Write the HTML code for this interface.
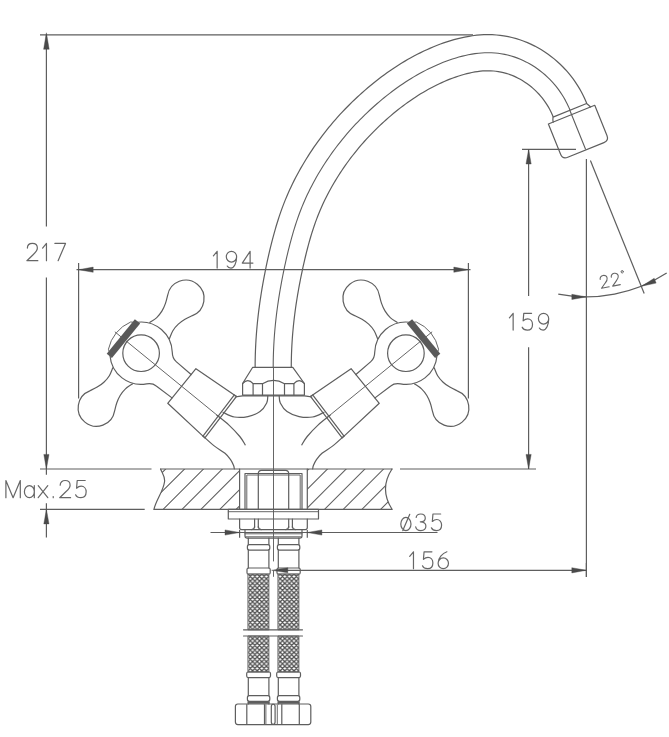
<!DOCTYPE html>
<html><head><meta charset="utf-8"><title>Faucet drawing</title>
<style>html,body{margin:0;padding:0;background:#fff;}svg{display:block;}</style></head>
<body><svg width="669" height="737" viewBox="0 0 669 737">
<rect width="669" height="737" fill="#fff"/>
<g fill="none" stroke="#5e5e5e" stroke-width="1.2" stroke-linecap="round" stroke-linejoin="round">
<path d="M255.13,367.40 L255.14,364.28 L255.17,361.15 L255.25,357.25 L255.33,354.13 L255.44,351.01 L255.60,347.11 L255.76,344.00 L255.98,340.11 L256.19,337.00 L256.41,333.89 L256.72,330.01 L257.00,326.91 L257.36,323.04 L257.68,319.94 L258.02,316.85 L258.47,312.99 L258.85,309.91 L259.36,306.06 L259.78,302.98 L260.23,299.91 L260.81,296.08 L261.29,293.02 L261.92,289.21 L262.44,286.16 L262.97,283.12 L263.66,279.33 L264.23,276.30 L264.97,272.52 L265.57,269.50 L266.19,266.48 L266.98,262.70 L267.63,259.69 L268.47,255.92 L269.16,252.91 L269.87,249.89 L270.78,246.13 L271.53,243.11 L272.50,239.35 L273.30,236.33 L274.12,233.32 L275.18,229.54 L276.06,226.52 L277.21,222.74 L278.16,219.71 L279.15,216.68 L280.43,212.91 L281.49,209.89 L282.88,206.13 L284.03,203.13 L285.21,200.15 L286.75,196.43 L288.02,193.47 L289.67,189.80 L291.02,186.88 L292.41,183.98 L294.20,180.38 L295.67,177.52 L297.17,174.69 L299.08,171.18 L300.65,168.39 L302.65,164.94 L304.28,162.20 L305.94,159.48 L308.06,156.10 L309.78,153.42 L311.98,150.10 L313.77,147.46 L315.58,144.85 L317.89,141.60 L319.77,139.03 L322.16,135.85 L324.10,133.32 L326.07,130.82 L328.56,127.71 L330.59,125.26 L333.16,122.21 L335.24,119.80 L337.35,117.42 L340.02,114.47 L342.19,112.13 L344.93,109.25 L347.15,106.97 L349.39,104.71 L352.23,101.93 L354.52,99.72 L357.41,97.01 L359.75,94.86 L362.11,92.73 L365.09,90.11 L367.50,88.04 L370.55,85.48 L373.01,83.47 L375.50,81.47 L378.64,79.02 L381.18,77.08 L384.39,74.70 L386.99,72.82 L389.62,70.97 L392.94,68.71 L395.63,66.92 L399.02,64.75 L401.76,63.04 L404.53,61.37 L408.02,59.33 L410.84,57.74 L414.40,55.81 L417.28,54.30 L420.18,52.84 L423.85,51.06 L426.81,49.68 L429.81,48.35 L433.59,46.75 L436.64,45.52 L440.50,44.05 L443.63,42.93 L446.78,41.87 L450.76,40.62 L453.98,39.68 L458.05,38.60 L461.35,37.81 L464.69,37.09 L468.95,36.29 L472.41,35.76 L476.79,35.22 L480.33,34.91 L483.91,34.71 L488.41,34.63 L492.04,34.71 L496.57,34.98 L500.20,35.35 L503.82,35.85 L508.33,36.66 L511.90,37.47 L516.31,38.65 L519.80,39.74 L523.24,40.95 L527.45,42.64 L530.76,44.11 L534.79,46.09 L537.94,47.79 L541.04,49.59 L544.82,51.98 L547.77,54.00 L551.37,56.66 L554.17,58.88 L556.89,61.20 L560.19,64.22 L562.73,66.72 L565.80,69.97 L568.16,72.65 L570.43,75.41 L573.14,78.95 L575.21,81.86 L577.66,85.58 L579.51,88.63 L581.27,91.74 L583.32,95.69 L584.85,98.91 L586.61,103.00" />
<path d="M273.20,367.40 L273.21,364.41 L273.24,361.41 L273.31,357.67 L273.40,354.68 L273.50,351.69 L273.66,347.95 L273.81,344.96 L274.02,341.23 L274.22,338.24 L274.43,335.26 L274.73,331.53 L274.99,328.55 L275.35,324.82 L275.65,321.85 L275.98,318.87 L276.41,315.16 L276.78,312.19 L277.27,308.48 L277.68,305.51 L278.10,302.55 L278.66,298.85 L279.13,295.89 L279.74,292.20 L280.24,289.25 L280.76,286.31 L281.43,282.63 L281.99,279.68 L282.70,276.01 L283.28,273.08 L283.88,270.14 L284.66,266.48 L285.29,263.56 L286.10,259.91 L286.77,256.99 L287.45,254.08 L288.33,250.44 L289.06,247.54 L289.99,243.91 L290.75,241.02 L291.54,238.13 L292.55,234.53 L293.39,231.66 L294.47,228.08 L295.37,225.22 L296.30,222.38 L297.50,218.83 L298.50,216.01 L299.79,212.50 L300.86,209.71 L301.97,206.92 L303.40,203.47 L304.58,200.72 L306.11,197.30 L307.37,194.59 L308.66,191.89 L310.32,188.54 L311.69,185.88 L313.09,183.23 L314.88,179.95 L316.35,177.34 L318.22,174.10 L319.76,171.53 L321.31,168.98 L323.30,165.81 L324.92,163.29 L326.99,160.17 L328.67,157.69 L330.37,155.23 L332.54,152.19 L334.31,149.77 L336.55,146.78 L338.38,144.40 L340.22,142.05 L342.57,139.13 L344.47,136.82 L346.89,133.97 L348.84,131.70 L350.83,129.46 L353.34,126.69 L355.37,124.49 L357.95,121.78 L360.04,119.64 L362.15,117.52 L364.82,114.89 L366.97,112.82 L369.70,110.26 L371.90,108.23 L374.13,106.23 L376.94,103.76 L379.21,101.81 L382.07,99.41 L384.39,97.51 L386.73,95.64 L389.67,93.33 L392.05,91.52 L395.06,89.29 L397.48,87.54 L399.93,85.82 L403.02,83.71 L405.52,82.05 L408.66,80.03 L411.20,78.45 L413.77,76.90 L417.00,75.02 L419.61,73.55 L422.89,71.76 L425.54,70.38 L428.22,69.03 L431.58,67.39 L434.30,66.13 L437.03,64.92 L440.47,63.46 L443.25,62.34 L446.75,61.01 L449.56,60.00 L452.40,59.04 L455.97,57.92 L458.84,57.09 L462.46,56.13 L465.37,55.43 L468.29,54.80 L471.97,54.11 L474.93,53.65 L478.64,53.20 L481.62,52.94 L484.61,52.77 L488.35,52.71 L491.34,52.77 L495.08,52.99 L498.06,53.30 L501.02,53.71 L504.70,54.37 L507.62,55.03 L511.23,55.99 L514.09,56.89 L516.91,57.88 L520.39,59.27 L523.12,60.49 L526.48,62.14 L529.11,63.56 L531.70,65.06 L534.86,67.06 L537.33,68.75 L540.34,70.97 L542.68,72.84 L544.96,74.78 L547.72,77.30 L549.85,79.40 L552.42,82.12 L554.40,84.37 L556.30,86.68 L558.58,89.65 L560.31,92.09 L562.37,95.21 L563.92,97.77 L565.39,100.38 L567.12,103.70 L568.40,106.40 L569.88,109.83" stroke-width="1.1"/>
<path d="M291.27,367.40 L291.28,364.54 L291.31,361.68 L291.38,358.10 L291.46,355.24 L291.56,352.37 L291.71,348.79 L291.85,345.93 L292.06,342.35 L292.25,339.49 L292.45,336.63 L292.74,333.05 L292.99,330.19 L293.33,326.61 L293.63,323.75 L293.94,320.89 L294.36,317.32 L294.71,314.46 L295.18,310.90 L295.57,308.04 L295.98,305.19 L296.52,301.62 L296.98,298.77 L297.56,295.20 L298.05,292.34 L298.55,289.49 L299.20,285.92 L299.74,283.07 L300.43,279.50 L301.00,276.66 L301.58,273.81 L302.33,270.26 L302.94,267.43 L303.73,263.89 L304.38,261.07 L305.04,258.26 L305.88,254.75 L306.58,251.96 L307.47,248.48 L308.21,245.70 L308.96,242.94 L309.92,239.52 L310.72,236.79 L311.74,233.42 L312.58,230.73 L313.45,228.07 L314.58,224.76 L315.50,222.13 L316.71,218.87 L317.70,216.28 L318.72,213.70 L320.04,210.50 L321.14,207.96 L322.55,204.81 L323.71,202.30 L324.91,199.80 L326.45,196.70 L327.72,194.23 L329.02,191.78 L330.68,188.72 L332.05,186.29 L333.80,183.26 L335.23,180.86 L336.69,178.47 L338.55,175.51 L340.06,173.16 L341.99,170.24 L343.57,167.92 L345.16,165.62 L347.19,162.77 L348.85,160.51 L350.95,157.71 L352.65,155.49 L354.38,153.28 L356.58,150.55 L358.36,148.39 L360.62,145.72 L362.45,143.60 L364.30,141.50 L366.65,138.91 L368.56,136.86 L370.97,134.32 L372.92,132.31 L374.90,130.32 L377.40,127.86 L379.43,125.91 L381.99,123.51 L384.06,121.61 L386.15,119.73 L388.79,117.41 L390.91,115.58 L393.60,113.33 L395.77,111.55 L397.95,109.80 L400.70,107.65 L402.92,105.96 L405.72,103.88 L407.98,102.26 L410.24,100.66 L413.10,98.71 L415.40,97.18 L418.30,95.32 L420.65,93.86 L423.01,92.44 L425.98,90.70 L428.37,89.35 L431.38,87.72 L433.81,86.45 L436.25,85.22 L439.31,83.73 L441.78,82.59 L444.25,81.48 L447.36,80.17 L449.86,79.16 L452.99,77.97 L455.50,77.07 L458.02,76.22 L461.18,75.23 L463.70,74.49 L466.87,73.66 L469.39,73.05 L471.90,72.51 L474.99,71.93 L477.45,71.55 L480.50,71.18 L482.91,70.96 L485.31,70.83 L488.29,70.78 L490.65,70.83 L493.58,71.01 L495.91,71.24 L498.22,71.56 L501.08,72.08 L503.35,72.58 L506.15,73.34 L508.38,74.03 L510.59,74.81 L513.32,75.90 L515.48,76.87 L518.16,78.19 L520.28,79.33 L522.36,80.54 L524.90,82.14 L526.89,83.50 L529.31,85.29 L531.20,86.79 L533.03,88.35 L535.25,90.39 L536.97,92.08 L539.05,94.27 L540.64,96.08 L542.18,97.95 L544.01,100.34 L545.41,102.32 L547.07,104.84 L548.33,106.91 L549.52,109.01 L550.91,111.70 L551.95,113.89 L553.15,116.67" />
<line x1="273.50" y1="367.50" x2="273.50" y2="561.00" stroke-width="0.95"/>
<line x1="273.50" y1="571.00" x2="273.50" y2="576.40" stroke-width="0.95"/>
<g transform="translate(569.8,110.3) rotate(-22)">
<path d="M-18.1,0 L18.1,0 M-18.1,0 Q-19.5,2.5 -19.8,4.7 M18.1,0 Q19.5,2.5 20.5,4.7" />
<path d="M-25,4.7 L25,4.7 L25,37.3 Q25,42.8 19.5,42.8 L-19.5,42.8 Q-25,42.8 -25,37.3 Z" />
<line x1="0.00" y1="0.00" x2="0.00" y2="41.80" stroke-width="1.1"/>
</g>
<path d="M252.7,367.3 L292.8,367.3 L304.4,383.5 L304.4,395.1 L242.6,395.1 L242.6,383.5 Z" />
<path d="M242.6,383.7 Q247.8,377.4 253.1,383.7 L262.5,383.7 Q273.5,377 284.5,383.7 L293.9,383.7 Q299.2,377.4 304.4,383.7" />
<line x1="253.10" y1="383.70" x2="253.10" y2="395.10" />
<line x1="262.50" y1="383.70" x2="262.50" y2="395.10" />
<line x1="284.50" y1="383.70" x2="284.50" y2="395.10" />
<line x1="293.90" y1="383.70" x2="293.90" y2="395.10" />
<g>
<circle cx="141.1" cy="353.2" r="18.3"/>
<path d="M137.31,322.24 A31.2,31.2 0 0,1 172.28,352.31 Q172.35,358.55 176.18,361.61 L191.10,374.49" />
<path d="M172.01,397.89 L156.27,386.02 Q152.50,382.89 146.50,383.93 A31.2,31.2 0 0,1 110.01,355.72" />
<g transform="matrix(0.775,0.632,0.632,-0.775,141.1,353.2)"><path d="M-12.70,29.30 C-12.32,30.67 -10.77,34.72 -10.40,37.50 C-10.03,40.28 -10.13,43.25 -10.50,46.00 C-10.87,48.75 -11.68,51.40 -12.60,54.00 C-13.52,56.60 -15.43,60.33 -16.00,61.60 A18.35,18.35 0 1,0 16.00,61.60 C15.43,60.33 13.52,56.60 12.60,54.00 C11.68,51.40 10.87,48.75 10.50,46.00 C10.13,43.25 10.03,40.28 10.40,37.50 C10.77,34.72 12.32,30.67 12.70,29.30"/><path d="M-12.70,29.30 C-12.32,30.67 -10.77,34.72 -10.40,37.50 C-10.03,40.28 -10.13,43.25 -10.50,46.00 C-10.87,48.75 -11.68,51.40 -12.60,54.00 C-13.52,56.60 -15.43,60.33 -16.00,61.60 A18.35,18.35 0 1,0 16.00,61.60 C15.43,60.33 13.52,56.60 12.60,54.00 C11.68,51.40 10.87,48.75 10.50,46.00 C10.13,43.25 10.03,40.28 10.40,37.50 C10.77,34.72 12.32,30.67 12.70,29.30" transform="scale(1,-1)"/></g>
<line x1="137.51" y1="321.37" x2="109.32" y2="355.93" stroke="#595959" stroke-width="6.8" stroke-linecap="butt" stroke-linejoin="round"/>
<path d="M132.83,322.20 L130.68,321.99 A38,38 0 0,0 108.43,349.27 L109.07,351.34" stroke-width="0.95"/>
<line x1="115.14" y1="332.03" x2="219.76" y2="417.35" stroke-width="0.95"/>
<path d="M234.33,394.90 L195.92,368.74 L167.73,403.30 L202.98,436.18" />
<path d="M234.33,394.90 L202.98,436.18 L204.87,437.98 L236.53,396.31 Z" />
<path d="M235.1,397.0 Q239,396.2 242.6,395.9 L273.5,395.9" />
<path d="M267.80,395.90 C267.62,397.07 268.00,400.28 266.70,402.90 C265.40,405.52 263.13,409.32 260.00,411.60 C256.87,413.88 252.17,415.70 247.90,416.60 C243.63,417.50 238.55,417.72 234.40,417.00 C230.25,416.28 224.90,413.08 223.00,412.30" />
<path d="M216.90,415.20 C218.92,416.85 225.18,421.55 229.00,425.10 C232.82,428.65 237.10,433.22 239.80,436.50 C242.50,439.78 244.30,443.42 245.20,444.80" />
<path d="M202.80,435.80 C204.70,437.48 210.50,442.98 214.20,445.90 C217.90,448.82 222.30,451.05 225.00,453.30 C227.70,455.55 228.97,457.37 230.40,459.40 C231.83,461.43 232.95,463.93 233.60,465.50 C234.25,467.07 234.18,468.25 234.30,468.80" />
</g>
<g transform="matrix(-1,0,0,1,547.00,0)">
<circle cx="141.1" cy="353.2" r="18.3"/>
<path d="M137.31,322.24 A31.2,31.2 0 0,1 172.28,352.31 Q172.35,358.55 176.18,361.61 L191.10,374.49" />
<path d="M172.01,397.89 L156.27,386.02 Q152.50,382.89 146.50,383.93 A31.2,31.2 0 0,1 110.01,355.72" />
<g transform="matrix(0.775,0.632,0.632,-0.775,141.1,353.2)"><path d="M-12.70,29.30 C-12.32,30.67 -10.77,34.72 -10.40,37.50 C-10.03,40.28 -10.13,43.25 -10.50,46.00 C-10.87,48.75 -11.68,51.40 -12.60,54.00 C-13.52,56.60 -15.43,60.33 -16.00,61.60 A18.35,18.35 0 1,0 16.00,61.60 C15.43,60.33 13.52,56.60 12.60,54.00 C11.68,51.40 10.87,48.75 10.50,46.00 C10.13,43.25 10.03,40.28 10.40,37.50 C10.77,34.72 12.32,30.67 12.70,29.30"/><path d="M-12.70,29.30 C-12.32,30.67 -10.77,34.72 -10.40,37.50 C-10.03,40.28 -10.13,43.25 -10.50,46.00 C-10.87,48.75 -11.68,51.40 -12.60,54.00 C-13.52,56.60 -15.43,60.33 -16.00,61.60 A18.35,18.35 0 1,0 16.00,61.60 C15.43,60.33 13.52,56.60 12.60,54.00 C11.68,51.40 10.87,48.75 10.50,46.00 C10.13,43.25 10.03,40.28 10.40,37.50 C10.77,34.72 12.32,30.67 12.70,29.30" transform="scale(1,-1)"/></g>
<line x1="137.51" y1="321.37" x2="109.32" y2="355.93" stroke="#595959" stroke-width="6.8" stroke-linecap="butt" stroke-linejoin="round"/>
<path d="M132.83,322.20 L130.68,321.99 A38,38 0 0,0 108.43,349.27 L109.07,351.34" stroke-width="0.95"/>
<line x1="115.14" y1="332.03" x2="219.76" y2="417.35" stroke-width="0.95"/>
<path d="M234.33,394.90 L195.92,368.74 L167.73,403.30 L202.98,436.18" />
<path d="M234.33,394.90 L202.98,436.18 L204.87,437.98 L236.53,396.31 Z" />
<path d="M235.1,397.0 Q239,396.2 242.6,395.9 L273.5,395.9" />
<path d="M267.80,395.90 C267.62,397.07 268.00,400.28 266.70,402.90 C265.40,405.52 263.13,409.32 260.00,411.60 C256.87,413.88 252.17,415.70 247.90,416.60 C243.63,417.50 238.55,417.72 234.40,417.00 C230.25,416.28 224.90,413.08 223.00,412.30" />
<path d="M216.90,415.20 C218.92,416.85 225.18,421.55 229.00,425.10 C232.82,428.65 237.10,433.22 239.80,436.50 C242.50,439.78 244.30,443.42 245.20,444.80" />
<path d="M202.80,435.80 C204.70,437.48 210.50,442.98 214.20,445.90 C217.90,448.82 222.30,451.05 225.00,453.30 C227.70,455.55 228.97,457.37 230.40,459.40 C231.83,461.43 232.95,463.93 233.60,465.50 C234.25,467.07 234.18,468.25 234.30,468.80" />
</g>
<defs>
<clipPath id="cl"><path d="M160.6,469.0 C162,473 165.5,477 164.5,482 C163,492 156,500 154,509.3 L239.6,509.3 L239.6,469.0 Z"/></clipPath>
<clipPath id="cr"><path d="M307.3,469.0 L392,469.0 C383.5,482 383.5,496 392,509.3 L307.3,509.3 Z"/></clipPath>
</defs>
<g clip-path="url(#cl)">
<line x1="95.80" y1="520.00" x2="155.80" y2="460.00" stroke-width="1.05"/>
<line x1="114.70" y1="520.00" x2="174.70" y2="460.00" stroke-width="1.05"/>
<line x1="133.60" y1="520.00" x2="193.60" y2="460.00" stroke-width="1.05"/>
<line x1="152.50" y1="520.00" x2="212.50" y2="460.00" stroke-width="1.05"/>
<line x1="171.40" y1="520.00" x2="231.40" y2="460.00" stroke-width="1.05"/>
<line x1="190.30" y1="520.00" x2="250.30" y2="460.00" stroke-width="1.05"/>
<line x1="209.20" y1="520.00" x2="269.20" y2="460.00" stroke-width="1.05"/>
<line x1="228.10" y1="520.00" x2="288.10" y2="460.00" stroke-width="1.05"/>
<line x1="247.00" y1="520.00" x2="307.00" y2="460.00" stroke-width="1.05"/>
<line x1="265.90" y1="520.00" x2="325.90" y2="460.00" stroke-width="1.05"/>
<line x1="225.50" y1="520.00" x2="285.50" y2="460.00" />
</g>
<g clip-path="url(#cr)">
<line x1="239.10" y1="520.00" x2="299.10" y2="460.00" stroke-width="1.05"/>
<line x1="257.80" y1="520.00" x2="317.80" y2="460.00" stroke-width="1.05"/>
<line x1="276.50" y1="520.00" x2="336.50" y2="460.00" stroke-width="1.05"/>
<line x1="295.20" y1="520.00" x2="355.20" y2="460.00" stroke-width="1.05"/>
<line x1="313.90" y1="520.00" x2="373.90" y2="460.00" stroke-width="1.05"/>
<line x1="332.60" y1="520.00" x2="392.60" y2="460.00" stroke-width="1.05"/>
<line x1="351.30" y1="520.00" x2="411.30" y2="460.00" stroke-width="1.05"/>
<line x1="370.00" y1="520.00" x2="430.00" y2="460.00" stroke-width="1.05"/>
<line x1="388.70" y1="520.00" x2="448.70" y2="460.00" stroke-width="1.05"/>
<line x1="407.40" y1="520.00" x2="467.40" y2="460.00" stroke-width="1.05"/>
</g>
<path d="M160.6,469.0 C162,473 165.5,477 164.5,482 C163,492 156,500 154,509.3" />
<path d="M392,469.0 C383.5,482 383.5,496 392,509.3" />
<line x1="160.60" y1="469.00" x2="392.00" y2="469.00" />
<line x1="154.00" y1="509.30" x2="392.00" y2="509.30" />
<line x1="239.60" y1="469.00" x2="239.60" y2="509.30" />
<line x1="307.30" y1="469.00" x2="307.30" y2="509.30" />
<path d="M245.0,509.3 L245.0,473.5 L302.0,473.5 L302.0,509.3" />
<path d="M246.8,509.3 L246.8,475 L300.2,475 L300.2,509.3" stroke-width="0.95"/>
<path d="M258.3,509.3 L258.3,473.5 Q258.3,470.3 261.5,470.3 L285.5,470.3 Q288.7,470.3 288.7,473.5 L288.7,509.3" />
<rect x="228.3" y="509.3" width="90.2" height="9.7"/>
<line x1="228.30" y1="511.70" x2="318.50" y2="511.70" stroke-width="0.95"/>
<path d="M239.6,519 L239.6,527.5 Q239.6,529.6 241.8,529.6 L305.1,529.6 Q307.3,529.6 307.3,527.5 L307.3,519" />
<line x1="254.60" y1="519.00" x2="254.60" y2="527.50" />
<line x1="258.30" y1="519.00" x2="258.30" y2="527.50" />
<line x1="288.70" y1="519.00" x2="288.70" y2="527.50" />
<line x1="292.40" y1="519.00" x2="292.40" y2="527.50" />
<path d="M251.6,529.6 Q254.6,529 254.6,526.5 M261.3,529.6 Q258.3,529 258.3,526.5 M285.7,529.6 Q288.7,529 288.7,526.5 M295.4,529.6 Q292.4,529 292.4,526.5" />
<path d="M245.0,530.2 L245.0,536 Q245.0,538.2 247.3,538.2 L299.7,538.2 Q302.0,538.2 302.0,536 L302.0,530.2" />
<line x1="245.00" y1="533.80" x2="302.00" y2="533.80" stroke-width="0.95"/>
<line x1="246.00" y1="536.80" x2="301.00" y2="536.80" stroke-width="0.95"/>
<defs><pattern id="braid" x="248.0" y="574.2" width="4.6" height="4.6" patternUnits="userSpaceOnUse"><rect width="4.6" height="4.6" fill="#fff" stroke="none"/><path d="M-1,-1 L5.6,5.6 M-1,5.6 L5.6,-1 M-5.6,-1 L1,5.6 M3.5999999999999996,-1 L10.2,5.6 M-1,1 L1,-1 M3.5999999999999996,5.6 L5.6,3.5999999999999996 M-1,3.5999999999999996 L1,5.6 M3.5999999999999996,-1 L5.6,1" stroke="#505050" stroke-width="1.3" stroke-linecap="butt" fill="none"/></pattern></defs>
<path d="M248.3,538.2 L248.3,544.7 M268.9,538.2 L268.9,544.7" />
<rect x="247.4" y="544.7" width="22.399999999999967" height="5.4" rx="2"/>
<path d="M248.3,550.1 L248.3,568 M268.9,550.1 L268.9,568" />
<rect x="247.0" y="568" width="23.199999999999967" height="6.2" rx="1.5"/>
<rect x="248.3" y="574.2" width="20.599999999999966" height="55.6" fill="url(#braid)" stroke-width="0.9"/>
<rect x="248.3" y="636" width="20.599999999999966" height="36" fill="url(#braid)" stroke-width="0.9"/>
<rect x="246.70000000000002" y="672" width="23.799999999999965" height="5.6" rx="1.5"/>
<path d="M248.3,677.6 L248.3,695.7 M268.9,677.6 L268.9,695.7" />
<rect x="247.4" y="695.7" width="22.399999999999967" height="5.6" rx="2"/>
<path d="M248.3,701.3 L248.3,704 M268.9,701.3 L268.9,704" />
<line x1="248.30" y1="702.90" x2="268.90" y2="702.90" stroke-width="1.6"/>
<path d="M278.3,538.2 L278.3,544.7 M298.9,538.2 L298.9,544.7" />
<rect x="277.40000000000003" y="544.7" width="22.399999999999967" height="5.4" rx="2"/>
<path d="M278.3,550.1 L278.3,568 M298.9,550.1 L298.9,568" />
<rect x="277.0" y="568" width="23.199999999999967" height="6.2" rx="1.5"/>
<rect x="278.3" y="574.2" width="20.599999999999966" height="55.6" fill="url(#braid)" stroke-width="0.9"/>
<rect x="278.3" y="636" width="20.599999999999966" height="36" fill="url(#braid)" stroke-width="0.9"/>
<rect x="276.7" y="672" width="23.799999999999965" height="5.6" rx="1.5"/>
<path d="M278.3,677.6 L278.3,695.7 M298.9,677.6 L298.9,695.7" />
<rect x="277.40000000000003" y="695.7" width="22.399999999999967" height="5.6" rx="2"/>
<path d="M278.3,701.3 L278.3,704 M298.9,701.3 L298.9,704" />
<line x1="278.30" y1="702.90" x2="298.90" y2="702.90" stroke-width="1.6"/>
<line x1="243.50" y1="629.80" x2="302.50" y2="629.80" />
<line x1="243.50" y1="636.00" x2="302.50" y2="636.00" />
<rect x="235.4" y="704" width="39.7" height="20.6" rx="2.5"/>
<rect x="271.3" y="704" width="39.5" height="20.6" rx="2.5"/>
<line x1="246.80" y1="704.50" x2="246.80" y2="724.00" />
<line x1="264.50" y1="704.50" x2="264.50" y2="724.00" />
<line x1="281.80" y1="704.50" x2="281.80" y2="724.00" />
<line x1="299.30" y1="704.50" x2="299.30" y2="724.00" />
<line x1="265.90" y1="705.00" x2="265.90" y2="723.60" stroke-width="0.9"/>
<line x1="277.30" y1="705.00" x2="277.30" y2="723.60" stroke-width="0.9"/>
</g>
<g fill="none" stroke="#5e5e5e" stroke-width="1.2" stroke-linecap="butt">
<line x1="40.00" y1="34.80" x2="473.00" y2="34.80" />
<line x1="46.40" y1="34.80" x2="46.40" y2="226.60" />
<line x1="46.40" y1="277.60" x2="46.40" y2="474.80" />
<line x1="46.40" y1="503.30" x2="46.40" y2="537.50" />
<line x1="40.00" y1="469.00" x2="151.50" y2="469.00" />
<line x1="40.00" y1="509.30" x2="144.70" y2="509.30" />
<line x1="400.00" y1="469.00" x2="536.00" y2="469.00" />
<line x1="78.60" y1="263.00" x2="78.60" y2="398.40" />
<line x1="468.40" y1="263.00" x2="468.40" y2="398.40" />
<line x1="76.50" y1="269.70" x2="470.50" y2="269.70" />
<line x1="522.00" y1="149.40" x2="576.00" y2="149.40" />
<line x1="528.60" y1="149.40" x2="528.60" y2="296.00" />
<line x1="528.60" y1="347.20" x2="528.60" y2="469.00" />
<line x1="586.40" y1="159.00" x2="586.40" y2="577.00" />
<line x1="590.40" y1="160.50" x2="644.20" y2="293.50" />
<path d="M558.27,294.19 A147.4,147.4 0 0,0 666.68,273.12" />
<line x1="210.50" y1="532.50" x2="437.50" y2="532.50" />
<line x1="239.60" y1="530.00" x2="239.60" y2="537.70" />
<line x1="307.30" y1="530.00" x2="307.30" y2="537.70" />
<line x1="286.00" y1="570.30" x2="586.40" y2="570.30" />
<line x1="586.40" y1="563.00" x2="586.40" y2="577.00" />
</g>
<polygon points="46.40,32.80 49.20,49.30 43.60,49.30" fill="#4a4a4a" stroke="#4a4a4a" stroke-width="0.4"/>
<polygon points="46.40,469.00 43.80,454.40 49.00,454.40" fill="#4a4a4a" stroke="#4a4a4a" stroke-width="0.4"/>
<polygon points="46.40,509.30 49.00,523.90 43.80,523.90" fill="#4a4a4a" stroke="#4a4a4a" stroke-width="0.4"/>
<polygon points="78.60,269.70 93.20,267.10 93.20,272.30" fill="#4a4a4a" stroke="#4a4a4a" stroke-width="0.4"/>
<polygon points="468.40,269.70 453.80,272.30 453.80,267.10" fill="#4a4a4a" stroke="#4a4a4a" stroke-width="0.4"/>
<polygon points="528.60,149.40 531.20,164.00 526.00,164.00" fill="#4a4a4a" stroke="#4a4a4a" stroke-width="0.4"/>
<polygon points="528.60,469.00 526.00,454.40 531.20,454.40" fill="#4a4a4a" stroke="#4a4a4a" stroke-width="0.4"/>
<polygon points="586.40,296.90 571.80,299.50 571.80,294.30" fill="#4a4a4a" stroke="#4a4a4a" stroke-width="0.4"/>
<polygon points="641.62,286.17 654.18,278.29 656.13,283.11" fill="#4a4a4a" stroke="#4a4a4a" stroke-width="0.4"/>
<polygon points="239.60,532.50 225.00,535.10 225.00,529.90" fill="#4a4a4a" stroke="#4a4a4a" stroke-width="0.4"/>
<polygon points="307.30,532.50 321.90,529.90 321.90,535.10" fill="#4a4a4a" stroke="#4a4a4a" stroke-width="0.4"/>
<polygon points="271.60,570.30 287.80,567.80 287.80,572.80" fill="#4a4a4a" stroke="#4a4a4a" stroke-width="0.4"/>
<polygon points="586.40,570.30 571.80,572.90 571.80,567.70" fill="#4a4a4a" stroke="#4a4a4a" stroke-width="0.4"/>
<path d="M0.03,0.27 C0.03,0.1 0.17,0 0.34,0 C0.52,0 0.65,0.1 0.65,0.27 C0.65,0.42 0.55,0.52 0.4,0.64 L0,1 L0.68,1" transform="translate(26.90,243.40) scale(16.089,17.300)" fill="none" stroke="#666" stroke-width="1.2" vector-effect="non-scaling-stroke" stroke-linecap="round" stroke-linejoin="round"/>
<path d="M0.0,0.27 L0.24,0 L0.24,1" transform="translate(42.60,243.40) scale(16.089,17.300)" fill="none" stroke="#666" stroke-width="1.2" vector-effect="non-scaling-stroke" stroke-linecap="round" stroke-linejoin="round"/>
<path d="M0,0 L0.66,0 L0.2,1" transform="translate(54.90,243.40) scale(16.089,17.300)" fill="none" stroke="#666" stroke-width="1.2" vector-effect="non-scaling-stroke" stroke-linecap="round" stroke-linejoin="round"/>
<path d="M0.0,0.27 L0.24,0 L0.24,1" transform="translate(213.40,251.30) scale(15.624,16.800)" fill="none" stroke="#666" stroke-width="1.2" vector-effect="non-scaling-stroke" stroke-linecap="round" stroke-linejoin="round"/>
<path d="M0.66,0.32 A0.33,0.32 0 1,0 0,0.32 A0.33,0.32 0 1,0 0.66,0.32 C0.66,0.7 0.5,1.0 0.3,1.0 C0.2,1.0 0.1,0.96 0.06,0.88" transform="translate(226.30,251.30) scale(15.624,16.800)" fill="none" stroke="#666" stroke-width="1.2" vector-effect="non-scaling-stroke" stroke-linecap="round" stroke-linejoin="round"/>
<path d="M0.5,1 L0.5,0 L0,0.7 L0.68,0.7" transform="translate(242.30,251.30) scale(15.624,16.800)" fill="none" stroke="#666" stroke-width="1.2" vector-effect="non-scaling-stroke" stroke-linecap="round" stroke-linejoin="round"/>
<path d="M0.0,0.27 L0.24,0 L0.24,1" transform="translate(509.40,313.30) scale(15.624,16.800)" fill="none" stroke="#666" stroke-width="1.2" vector-effect="non-scaling-stroke" stroke-linecap="round" stroke-linejoin="round"/>
<path d="M0.6,0 L0.1,0 L0.06,0.45 C0.15,0.37 0.24,0.33 0.35,0.33 C0.53,0.33 0.66,0.47 0.66,0.66 C0.66,0.86 0.53,1 0.33,1 C0.17,1 0.05,0.94 0.0,0.83" transform="translate(522.20,313.30) scale(15.624,16.800)" fill="none" stroke="#666" stroke-width="1.2" vector-effect="non-scaling-stroke" stroke-linecap="round" stroke-linejoin="round"/>
<path d="M0.66,0.32 A0.33,0.32 0 1,0 0,0.32 A0.33,0.32 0 1,0 0.66,0.32 C0.66,0.7 0.5,1.0 0.3,1.0 C0.2,1.0 0.1,0.96 0.06,0.88" transform="translate(538.40,313.30) scale(15.624,16.800)" fill="none" stroke="#666" stroke-width="1.2" vector-effect="non-scaling-stroke" stroke-linecap="round" stroke-linejoin="round"/>
<path d="M0,1 L0,0 L0.45,1 L0.9,0 L0.9,1" transform="translate(5.90,480.50) scale(15.996,17.200)" fill="none" stroke="#666" stroke-width="1.2" vector-effect="non-scaling-stroke" stroke-linecap="round" stroke-linejoin="round"/>
<path d="M0.62,0.3 L0.62,1 M0.62,0.65 A0.31,0.35 0 1,0 0,0.65 A0.31,0.35 0 1,0 0.62,0.65" transform="translate(24.40,480.50) scale(15.996,17.200)" fill="none" stroke="#666" stroke-width="1.2" vector-effect="non-scaling-stroke" stroke-linecap="round" stroke-linejoin="round"/>
<path d="M0,0.3 L0.6,1 M0.6,0.3 L0,1" transform="translate(38.20,480.50) scale(15.996,17.200)" fill="none" stroke="#666" stroke-width="1.2" vector-effect="non-scaling-stroke" stroke-linecap="round" stroke-linejoin="round"/>
<path d="M0.04,0.93 L0.04,1.0" transform="translate(52.60,480.50) scale(15.996,17.200)" fill="none" stroke="#666" stroke-width="1.2" vector-effect="non-scaling-stroke" stroke-linecap="round" stroke-linejoin="round"/>
<path d="M0.03,0.27 C0.03,0.1 0.17,0 0.34,0 C0.52,0 0.65,0.1 0.65,0.27 C0.65,0.42 0.55,0.52 0.4,0.64 L0,1 L0.68,1" transform="translate(59.70,480.50) scale(15.996,17.200)" fill="none" stroke="#666" stroke-width="1.2" vector-effect="non-scaling-stroke" stroke-linecap="round" stroke-linejoin="round"/>
<path d="M0.6,0 L0.1,0 L0.06,0.45 C0.15,0.37 0.24,0.33 0.35,0.33 C0.53,0.33 0.66,0.47 0.66,0.66 C0.66,0.86 0.53,1 0.33,1 C0.17,1 0.05,0.94 0.0,0.83" transform="translate(75.60,480.50) scale(15.996,17.200)" fill="none" stroke="#666" stroke-width="1.2" vector-effect="non-scaling-stroke" stroke-linecap="round" stroke-linejoin="round"/>
<path d="M0.66,0.6 A0.33,0.4 0 1,0 0,0.6 A0.33,0.4 0 1,0 0.66,0.6 M0.13,1.0 L0.58,0.02" transform="translate(400.80,514.00) scale(15.438,16.600)" fill="none" stroke="#666" stroke-width="1.2" vector-effect="non-scaling-stroke" stroke-linecap="round" stroke-linejoin="round"/>
<path d="M0.03,0.2 C0.05,0.08 0.17,0 0.33,0 C0.5,0 0.62,0.1 0.62,0.25 C0.62,0.4 0.5,0.47 0.3,0.47 C0.52,0.47 0.66,0.57 0.66,0.73 C0.66,0.9 0.52,1 0.33,1 C0.15,1 0.03,0.92 0.0,0.78" transform="translate(415.70,514.00) scale(15.438,16.600)" fill="none" stroke="#666" stroke-width="1.2" vector-effect="non-scaling-stroke" stroke-linecap="round" stroke-linejoin="round"/>
<path d="M0.6,0 L0.1,0 L0.06,0.45 C0.15,0.37 0.24,0.33 0.35,0.33 C0.53,0.33 0.66,0.47 0.66,0.66 C0.66,0.86 0.53,1 0.33,1 C0.17,1 0.05,0.94 0.0,0.83" transform="translate(431.40,514.00) scale(15.438,16.600)" fill="none" stroke="#666" stroke-width="1.2" vector-effect="non-scaling-stroke" stroke-linecap="round" stroke-linejoin="round"/>
<path d="M0.0,0.27 L0.24,0 L0.24,1" transform="translate(409.70,551.80) scale(15.717,16.900)" fill="none" stroke="#666" stroke-width="1.2" vector-effect="non-scaling-stroke" stroke-linecap="round" stroke-linejoin="round"/>
<path d="M0.6,0 L0.1,0 L0.06,0.45 C0.15,0.37 0.24,0.33 0.35,0.33 C0.53,0.33 0.66,0.47 0.66,0.66 C0.66,0.86 0.53,1 0.33,1 C0.17,1 0.05,0.94 0.0,0.83" transform="translate(422.50,551.80) scale(15.717,16.900)" fill="none" stroke="#666" stroke-width="1.2" vector-effect="non-scaling-stroke" stroke-linecap="round" stroke-linejoin="round"/>
<path d="M0.56,0 C0.3,0.08 0.0,0.35 0.0,0.68 M0,0.68 A0.33,0.32 0 1,0 0.66,0.68 A0.33,0.32 0 1,0 0,0.68" transform="translate(438.10,551.80) scale(15.717,16.900)" fill="none" stroke="#666" stroke-width="1.2" vector-effect="non-scaling-stroke" stroke-linecap="round" stroke-linejoin="round"/>
<g transform="translate(599.2,276.2) rotate(-11)">
<path d="M0.03,0.27 C0.03,0.1 0.17,0 0.34,0 C0.52,0 0.65,0.1 0.65,0.27 C0.65,0.42 0.55,0.52 0.4,0.64 L0,1 L0.68,1" transform="translate(0.00,0.00) scale(11.439,12.300)" fill="none" stroke="#666" stroke-width="1.1" vector-effect="non-scaling-stroke" stroke-linecap="round" stroke-linejoin="round"/>
<path d="M0.03,0.27 C0.03,0.1 0.17,0 0.34,0 C0.52,0 0.65,0.1 0.65,0.27 C0.65,0.42 0.55,0.52 0.4,0.64 L0,1 L0.68,1" transform="translate(11.32,0.00) scale(11.439,12.300)" fill="none" stroke="#666" stroke-width="1.1" vector-effect="non-scaling-stroke" stroke-linecap="round" stroke-linejoin="round"/>
<path d="M0.2,0.1 A0.1,0.1 0 1,0 0,0.1 A0.1,0.1 0 1,0 0.2,0.1" transform="translate(22.30,-1.20) scale(11.439,12.300)" fill="none" stroke="#666" stroke-width="1.0" vector-effect="non-scaling-stroke" stroke-linecap="round" stroke-linejoin="round"/>
</g>
</svg></body></html>
